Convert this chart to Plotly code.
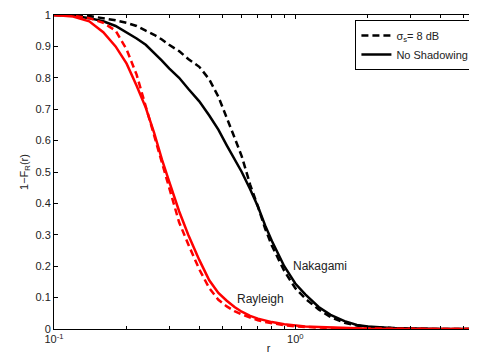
import plotly.graph_objects as go

# common r grid (log axis)
r = [0.1, 0.12, 0.14, 0.16, 0.18, 0.2, 0.22, 0.24, 0.26, 0.28, 0.3, 0.33, 0.36, 0.4,
     0.44, 0.48, 0.52, 0.56, 0.6, 0.65, 0.7, 0.75, 0.8, 0.9, 1.0, 1.1, 1.25, 1.4,
     1.6, 1.8, 2.0, 2.5, 3.0, 4.0, 6.0]

# Rayleigh, no shadowing (red solid)
rayleigh_noshadow = [1.0, 0.995, 0.98, 0.945, 0.90, 0.845, 0.775, 0.705, 0.625, 0.54,
                     0.47, 0.375, 0.30, 0.22, 0.155, 0.115, 0.09, 0.07, 0.055, 0.042,
                     0.033, 0.027, 0.022, 0.015, 0.011, 0.008, 0.006, 0.004, 0.003,
                     0.002, 0.001, 0.0005, 0.0, 0.0, 0.0]
# Rayleigh, sigma_s = 8 dB (red dashed)
rayleigh_shadow = [1.0, 0.998, 0.99, 0.975, 0.95, 0.89, 0.81, 0.71, 0.62, 0.53,
                   0.45, 0.34, 0.27, 0.19, 0.13, 0.093, 0.072, 0.057, 0.046, 0.036,
                   0.028, 0.022, 0.018, 0.012, 0.008, 0.006, 0.004, 0.003, 0.002,
                   0.0015, 0.001, 0.0004, 0.0, 0.0, 0.0]
# Nakagami, no shadowing (black solid)
nakagami_noshadow = [1.0, 0.998, 0.99, 0.98, 0.965, 0.945, 0.925, 0.905, 0.88, 0.855,
                     0.83, 0.80, 0.765, 0.725, 0.68, 0.635, 0.585, 0.54, 0.50, 0.445,
                     0.39, 0.33, 0.28, 0.20, 0.145, 0.11, 0.07, 0.045, 0.025, 0.013,
                     0.008, 0.003, 0.001, 0.0, 0.0]
# Nakagami, sigma_s = 8 dB (black dashed)
nakagami_shadow = [1.0, 1.0, 0.997, 0.99, 0.983, 0.975, 0.965, 0.95, 0.937, 0.922,
                   0.905, 0.885, 0.86, 0.835, 0.795, 0.74, 0.675, 0.61, 0.55, 0.46,
                   0.39, 0.32, 0.265, 0.185, 0.13, 0.097, 0.062, 0.038, 0.02, 0.011,
                   0.006, 0.002, 0.001, 0.0, 0.0]

y_ticks = [0, 0.1, 0.2, 0.3, 0.4, 0.5, 0.6, 0.7, 0.8, 0.9, 1]
y_ticktext = ["0", "0.1", "0.2", "0.3", "0.4", "0.5", "0.6", "0.7", "0.8", "0.9", "1"]
x_ticks = [0.1, 1]
x_ticktext = ["10<sup>-1</sup>", "10<sup>0</sup>"]
x_minor = [0.2, 0.3, 0.4, 0.5, 0.6, 0.7, 0.8, 0.9, 2, 3, 4, 5]

DASH = "7px,4px"
W = 2.5

fig = go.Figure()
fig.add_trace(go.Scatter(x=r, y=nakagami_shadow, mode="lines", name="σ<sub>s</sub>= 8 dB",
                         line=dict(color="black", width=W, dash=DASH)))
fig.add_trace(go.Scatter(x=r, y=nakagami_noshadow, mode="lines", name="No Shadowing",
                         line=dict(color="black", width=W)))
fig.add_trace(go.Scatter(x=r, y=rayleigh_shadow, mode="lines", showlegend=False,
                         line=dict(color="red", width=W, dash=DASH)))
fig.add_trace(go.Scatter(x=r, y=rayleigh_noshadow, mode="lines", showlegend=False,
                         line=dict(color="red", width=W)))

fig.add_annotation(x=-0.1446, y=0.096, xref="x", yref="y", text="Rayleigh",
                   showarrow=False, font=dict(size=12, color="#222"))
fig.add_annotation(x=0.1033, y=0.2, xref="x", yref="y", text="Nakagami",
                   showarrow=False, font=dict(size=12, color="#222"))

fig.update_layout(
    width=477, height=358,
    margin=dict(l=46, r=2, t=7, b=37, autoexpand=False),
    paper_bgcolor="white", plot_bgcolor="white",
    font=dict(family="Liberation Sans, Arial, sans-serif", size=11, color="#222"),
    showlegend=True,
    legend=dict(x=0.98, y=0.984, xanchor="right", yanchor="top",
                bgcolor="white", bordercolor="black", borderwidth=1,
                font=dict(size=11), tracegroupgap=0, itemwidth=30),
    xaxis=dict(type="log", range=[-1, 0.778], showgrid=False, zeroline=False,
               automargin=False,
               showline=True, linecolor="black", linewidth=1, mirror="ticks",
               ticks="inside", ticklen=4, tickcolor="black",
               tickvals=x_ticks, ticktext=x_ticktext,
               minor=dict(tickvals=x_minor, ticks="inside", ticklen=3, tickcolor="black"),
               title=dict(text="r", font=dict(size=11), standoff=0)),
    yaxis=dict(range=[0, 1], showgrid=False, zeroline=False,
               automargin=False,
               showline=True, linecolor="black", linewidth=1, mirror="ticks",
               ticks="inside", ticklen=4, tickcolor="black",
               tickvals=y_ticks, ticktext=y_ticktext,
               title=dict(text="1−F<sub>R</sub>(r)", font=dict(size=11), standoff=4)),
)

fig.write_html("out.html")
